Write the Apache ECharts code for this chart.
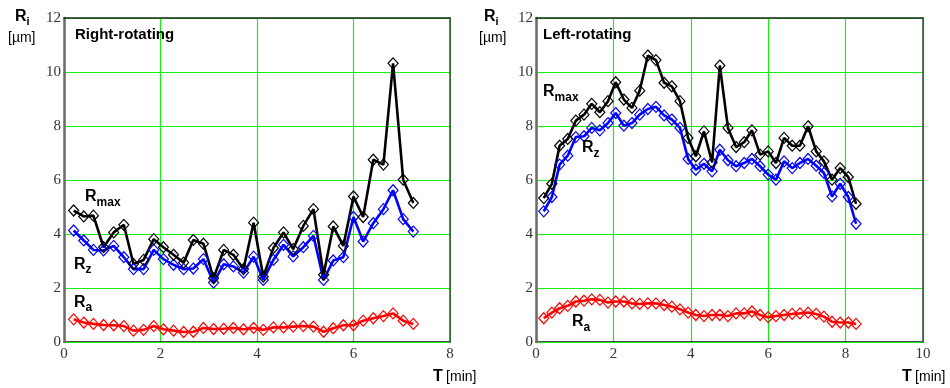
<!DOCTYPE html>
<html><head><meta charset="utf-8">
<script src="https://cdn.jsdelivr.net/npm/echarts@6/dist/echarts.min.js"></script>
<style>html,body{margin:0;padding:0;background:#fff}#c{width:950px;height:388px}</style>
</head><body><div id="c"></div>
<script>
// ---- data ----
const timeLeft = [0.20,0.41,0.61,0.82,1.03,1.24,1.44,1.65,1.86,2.06,2.27,2.48,2.68,2.89,3.10,3.31,3.51,3.72,3.93,4.13,4.34,4.55,4.75,4.96,5.17,5.38,5.58,5.79,6.00,6.20,6.41,6.62,6.82,7.03,7.24];
const rmaxLeft = [4.87,4.65,4.68,3.51,4.06,4.34,2.89,3.04,3.81,3.51,3.23,2.94,3.78,3.64,2.36,3.41,3.23,2.70,4.42,2.42,3.48,4.06,3.44,4.30,4.92,2.49,4.28,3.56,5.39,4.63,6.75,6.57,10.32,6.01,5.15];
const rzLeft   = [4.13,3.76,3.41,3.39,3.56,3.14,2.70,2.70,3.41,3.07,2.86,2.70,2.72,3.07,2.20,2.88,2.80,2.57,3.16,2.30,3.04,3.60,3.17,3.51,3.93,2.30,3.02,3.14,4.63,3.72,4.40,4.92,5.62,4.55,4.09];
const raLeft   = [0.84,0.72,0.67,0.63,0.62,0.59,0.42,0.45,0.59,0.47,0.42,0.37,0.38,0.52,0.48,0.49,0.52,0.47,0.52,0.45,0.54,0.54,0.57,0.59,0.57,0.38,0.51,0.62,0.62,0.79,0.88,0.96,1.06,0.79,0.67];

const timeRight = [0.20,0.41,0.61,0.82,1.03,1.24,1.44,1.65,1.86,2.06,2.27,2.48,2.68,2.89,3.10,3.31,3.51,3.72,3.93,4.13,4.34,4.55,4.75,4.96,5.17,5.38,5.58,5.79,6.00,6.20,6.41,6.62,6.82,7.03,7.24,7.44,7.65,7.86,8.07,8.27];
const rmaxRight = [5.33,5.86,7.27,7.52,8.20,8.42,8.82,8.51,8.92,9.62,8.98,8.67,9.31,10.61,10.44,9.60,9.47,8.92,7.56,6.88,7.80,6.65,10.24,7.93,7.22,7.40,7.84,6.94,7.06,6.63,7.56,7.27,7.27,7.99,7.06,6.69,6.01,6.44,6.11,5.12];
const rzRight   = [4.84,5.37,6.57,6.90,7.59,7.62,7.93,7.84,8.11,8.48,8.01,8.11,8.42,8.63,8.71,8.39,8.24,7.93,6.78,6.38,6.60,6.32,7.12,6.73,6.51,6.63,6.78,6.51,6.20,6.01,6.69,6.44,6.63,6.78,6.53,6.26,5.39,5.86,5.37,4.38];
const raRight   = [0.88,1.09,1.25,1.34,1.50,1.53,1.58,1.56,1.46,1.50,1.50,1.43,1.41,1.43,1.43,1.37,1.31,1.21,1.09,1.00,0.96,1.00,1.00,0.96,1.06,1.06,1.13,1.00,0.92,0.96,1.00,1.04,1.06,1.09,1.04,0.94,0.75,0.72,0.72,0.67];

const xTicksLeft = [0,2,4,6,8];
const xTicksRight = [0,2,4,6,8,10];
const yTicks = [0,2,4,6,8,10,12];
const panelTitles = ['Right-rotating','Left-rotating'];

// ---- styling ----
const SANS = 'Liberation Sans, Arial, sans-serif';
const SERIF = 'Liberation Serif, Times New Roman, serif';
const GREEN = '#14f014';
const chart = echarts.init(document.getElementById('c'), null, {renderer:'canvas'});

const mctx = document.createElement('canvas').getContext('2d');
function tw(text, font){ mctx.font = font; return mctx.measureText(text).width; }
function txt(x, baseline, text, size, bold, color){
  const font = (bold ? 'bold ' : '') + size + 'px ' + SANS;
  return {type:'text', x:x, y:baseline - 0.33*size, z:100,
    style:{text:text, font:font, fill:color||'#000', align:'left', verticalAlign:'middle'}};
}
function subLabel(x, base, subBase, main, sub, size, subSize){
  const f = 'bold ' + size + 'px ' + SANS;
  const w = tw(main, f);
  return [txt(x, base, main, size, true), txt(x + w, subBase, sub, subSize, true)];
}

function xAxis(idx, ticks){
  return {type:'value', gridIndex:idx, min:ticks[0], max:ticks[ticks.length-1], interval:2,
    axisLine:{show:true, onZero:false, lineStyle:{color:'#111', width:1.5}},
    axisTick:{show:false},
    axisLabel:{fontFamily:SERIF, fontSize:15, color:'#333', margin:5},
    splitLine:{show:true, lineStyle:{color:GREEN, width:1.2}}};
}
function xFrame(idx, ticks){
  return {type:'value', gridIndex:idx, position:'top', min:ticks[0], max:ticks[ticks.length-1], interval:2, z:5,
    axisLine:{show:true, onZero:false, lineStyle:{color:'#1a2a1a', width:1.5}},
    axisTick:{show:false}, axisLabel:{show:false}, splitLine:{show:false}};
}
function yAxis(idx){
  return {type:'value', gridIndex:idx, min:yTicks[0], max:yTicks[yTicks.length-1], interval:2, z:5,
    axisLine:{show:true, onZero:false, lineStyle:{color:'#6a6a6a', width:2.5}},
    axisTick:{show:false},
    axisLabel:{fontFamily:SERIF, fontSize:15, color:'#333', margin:3},
    splitLine:{show:true, lineStyle:{color:GREEN, width:1.2}}};
}
function yFrame(idx){
  return {type:'value', gridIndex:idx, position:'right', min:yTicks[0], max:yTicks[yTicks.length-1], interval:2, z:5,
    axisLine:{show:true, onZero:false, lineStyle:{color:'#444', width:1.5}},
    axisTick:{show:false}, axisLabel:{show:false}, splitLine:{show:false}};
}
function ser(idx, times, vals, color, name){
  return {type:'line', name:name, xAxisIndex:idx, yAxisIndex:idx, z:10,
    data: times.map((t,i)=>[t, vals[i]]),
    symbol:'diamond', symbolSize:[10,11], showSymbol:true,
    lineStyle:{color:color, width:2.6},
    itemStyle:{color:'rgba(255,255,255,0)', borderColor:color, borderWidth:1.2},
    emphasis:{disabled:true}, animation:false};
}

const graphics = [].concat(
  // y titles
  subLabel(15, 22, 26, 'R', 'i', 16, 11),
  [txt(8, 43, '[µm]', 14, false, '#000')],
  subLabel(484, 22, 26, 'R', 'i', 16, 11),
  [txt(479, 43, '[µm]', 14, false, '#000')],
  // x titles
  [{type:'text', x:433, y:377, z:100, style:{text:'{b|T} {n|[min]}', verticalAlign:'middle',
     rich:{b:{font:'bold 16px '+SANS, fill:'#000'}, n:{font:'14px '+SANS, fill:'#000'}}}}],
  [{type:'text', x:902, y:377, z:100, style:{text:'{b|T} {n|[min]}', verticalAlign:'middle',
     rich:{b:{font:'bold 16px '+SANS, fill:'#000'}, n:{font:'14px '+SANS, fill:'#000'}}}}],
  // panel titles
  [txt(75, 40, panelTitles[0], 15, true), txt(543, 40, panelTitles[1], 15, true)],
  // series labels left
  subLabel(85, 202, 207, 'R', 'max', 16, 12),
  subLabel(74, 270, 274, 'R', 'z', 16, 12),
  subLabel(74, 308, 312, 'R', 'a', 16, 12),
  // series labels right
  subLabel(543, 97, 102, 'R', 'max', 16, 12),
  subLabel(582, 153, 158, 'R', 'z', 16, 12),
  subLabel(572, 327, 332, 'R', 'a', 16, 12)
);

chart.setOption({
  animation:false,
  backgroundColor:'#fff',
  grid:[
    {left:64, top:18, width:386, height:324},
    {left:536, top:18, width:387, height:324}
  ],
  xAxis:[xAxis(0, xTicksLeft), xAxis(1, xTicksRight), xFrame(0, xTicksLeft), xFrame(1, xTicksRight)],
  yAxis:[yAxis(0), yAxis(1), yFrame(0), yFrame(1)],
  series:[
    ser(0, timeLeft, raLeft, '#ff0000', 'Ra'),
    ser(0, timeLeft, rzLeft, '#0000ff', 'Rz'),
    ser(0, timeLeft, rmaxLeft, '#000000', 'Rmax'),
    ser(1, timeRight, raRight, '#ff0000', 'Ra'),
    ser(1, timeRight, rzRight, '#0000ff', 'Rz'),
    ser(1, timeRight, rmaxRight, '#000000', 'Rmax')
  ],
  graphic:{elements:graphics}
});
</script></body></html>
